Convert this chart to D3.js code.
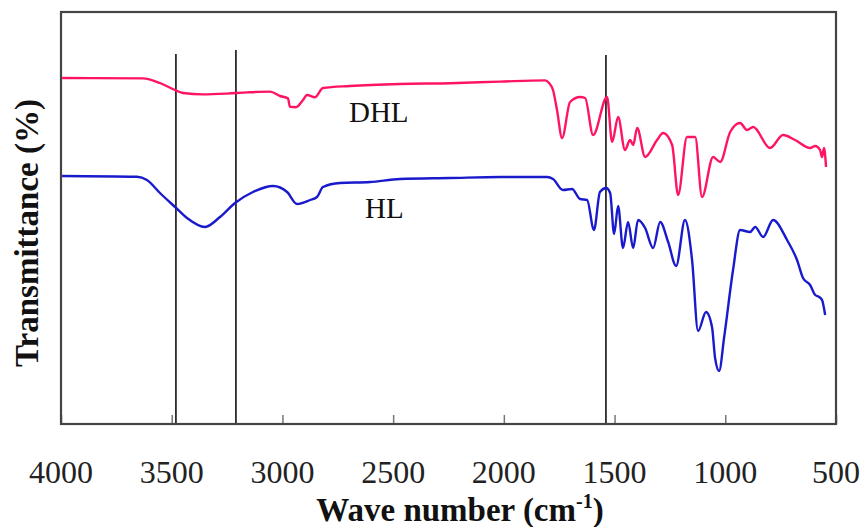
<!DOCTYPE html>
<html><head><meta charset="utf-8">
<script src="https://cdn.jsdelivr.net/npm/d3@7"></script>
<style>body{margin:0;background:#fff}svg{display:block}</style>
</head><body><svg id="c" width="865" height="527"></svg>
<script>
// Wavenumber (cm-1) and transmittance (arbitrary %, offset)
const dhlWave = [3995,3630,3553,3485,3449,3359,3250,3160,3056,3011,2975,2966,2939,2907,2889,2853,2817,2695,2469,2243,2017,1814,1796,1778,1760,1737,1701,1656,1633,1597,1534,1511,1484,1453,1430,1416,1398,1362,1308,1281,1240,1213,1173,1136,1105,1055,1023,978,933,902,874,798,739,685,617,594,572,563,554,545];
const dhlT    = [86.5,86.4,85.25,83.5,82.75,82.4,82.6,82.9,83.1,82.0,81.4,79.3,79.2,81.0,82.25,81.7,84,84.5,85,85.2,85.6,85.9,85.25,83.5,78.5,71.5,80.5,81.75,81.5,72.25,81.75,70.5,76.75,68.5,71,69.75,74,66.75,71,72.75,69.75,57.25,71.75,71.75,56.75,66.75,65.5,73,75.25,73.5,74.25,69,72.25,71,69,69.5,68.5,66.75,69,64.25];
const hlWave  = [3995,3657,3612,3553,3485,3431,3350,3282,3214,3133,3042,2979,2934,2875,2844,2817,2740,2604,2469,2243,2017,1805,1778,1733,1692,1656,1624,1593,1566,1538,1520,1502,1484,1462,1439,1416,1394,1362,1326,1294,1258,1222,1182,1150,1123,1087,1060,1046,1028,1005,965,933,888,865,829,784,721,676,649,617,594,576,563,549];
const hlT     = [62,61.8,61,57.75,54.25,51.5,49.25,51.75,55.25,58,59.5,58,55,56,56.75,59.25,60.25,60.5,61.25,61.5,61.75,61.75,61.25,58.5,58.75,56.25,56,48.5,58,59,57.75,47.5,54.5,44,50.5,44,51,49,44,50.5,45.5,39.5,51,41,23.25,28,24.25,16.5,13.25,21.75,38.5,48.5,48,49.25,46.75,51,46,41,36.5,34.75,32.25,31.75,31,27.25];
const markerWave = [3481,3210,1539];
const markerTop  = [92.5,93.5,92.25];
const xTicks = [4000,3500,3000,2500,2000,1500,1000,500];
const seriesNames = ["DHL","HL"];
const labelWave = [2565,2540];
const labelT = [75.5,51.5];

const svg = d3.select("#c");
const L=61, R=836, T=12, B=424;
const x = d3.scaleLinear().domain([4000,500]).range([L,R]);
const y = d3.scaleLinear().domain([0,103]).range([B,T]);
const serif = "Liberation Serif, Times New Roman, serif";

// x axis (inward ticks)
const ax = svg.append("g").attr("transform",`translate(0,${B})`)
  .call(d3.axisBottom(x).tickValues(xTicks).tickSize(-9).tickPadding(0).tickFormat(""));
ax.select(".domain").remove();
ax.selectAll("line").attr("stroke","#777").attr("stroke-width",1.5);
svg.append("g").selectAll("text").data(xTicks).join("text")
  .attr("x",d=>x(d)).attr("y",483).attr("text-anchor","middle")
  .attr("font-family",serif).attr("font-size",32)
  .attr("fill","#222").text(d=>d);

// marker lines
svg.append("g").selectAll("line").data(markerWave).join("line")
  .attr("x1",d=>x(d)).attr("x2",d=>x(d))
  .attr("y1",(d,i)=>y(markerTop[i])).attr("y2",B)
  .attr("stroke","#111").attr("stroke-width",1.6);

// frame
svg.append("rect").attr("x",L).attr("y",T).attr("width",R-L).attr("height",B-T)
  .attr("fill","none").attr("stroke","#444").attr("stroke-width",2.2);

const line = d3.line().x(d=>x(d[0])).y(d=>y(d[1])).curve(d3.curveMonotoneX);
const dhl = dhlWave.map((w,i)=>[w,dhlT[i]]);
const hl = hlWave.map((w,i)=>[w,hlT[i]]);
svg.append("path").datum(dhl).attr("d",line).attr("fill","none")
  .attr("stroke","#ff1464").attr("stroke-width",2.4).attr("stroke-linejoin","round");
svg.append("path").datum(hl).attr("d",line).attr("fill","none")
  .attr("stroke","#1a1acd").attr("stroke-width",2.4).attr("stroke-linejoin","round");

// series labels
svg.append("g").selectAll("text").data(seriesNames).join("text")
  .attr("x",(d,i)=>x(labelWave[i])).attr("y",(d,i)=>y(labelT[i]))
  .attr("text-anchor","middle").attr("font-family",serif)
  .attr("font-size",29).attr("fill","#111").text(d=>d);

// axis titles
const xt = svg.append("text").attr("x",460).attr("y",521).attr("text-anchor","middle")
  .attr("font-family",serif).attr("font-weight","bold")
  .attr("font-size",33).attr("fill","#111");
xt.append("tspan").text("Wave number (cm");
xt.append("tspan").attr("font-size",20).attr("dy",-13).text("-1");
xt.append("tspan").attr("dy",13).text(")");

svg.append("text").attr("transform","translate(38,233) rotate(-90)").attr("text-anchor","middle")
  .attr("font-family",serif).attr("font-weight","bold")
  .attr("font-size",33).attr("fill","#111").text("Transmittance (%)");
</script></body></html>
